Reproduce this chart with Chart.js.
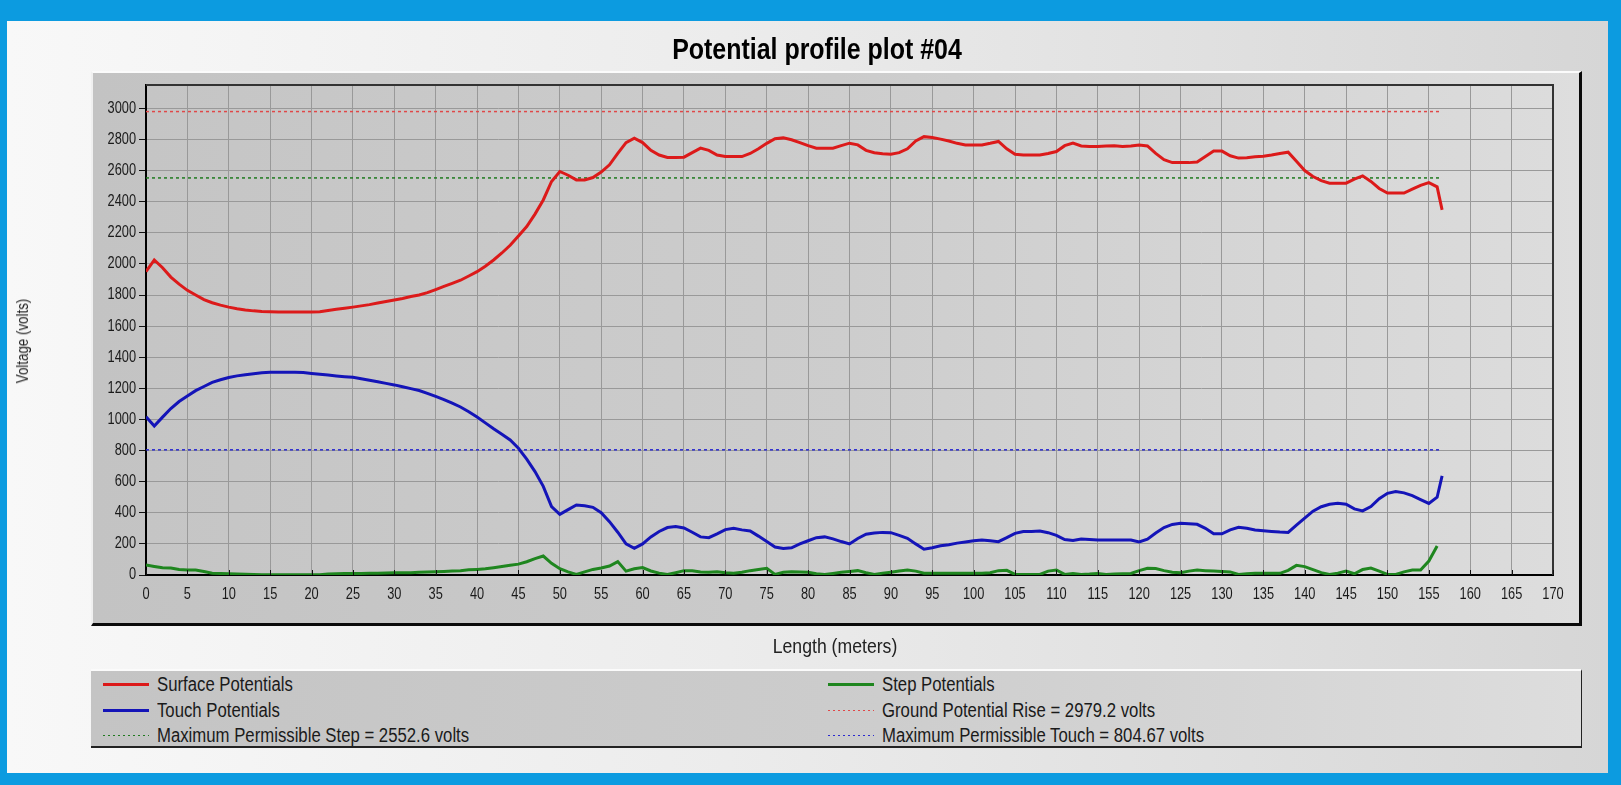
<!DOCTYPE html>
<html>
<head>
<meta charset="utf-8">
<title>Potential profile plot #04</title>
<script src="https://cdn.jsdelivr.net/npm/chart.js@4.4.1/dist/chart.umd.min.js"></script>
<style>
  html, body { margin: 0; padding: 0; }
  body { width: 1621px; height: 785px; background: #0c9be0; position: relative; overflow: hidden;
         font-family: 'Liberation Sans', Arial, sans-serif; color: #1a1a1a; }
  #inner { position: absolute; left: 7px; top: 21px; width: 1601px; height: 752px;
           background: linear-gradient(to right, #f8f8f8 0%, #ececec 45%, #d6d6d6 100%); }
  #panel { position: absolute; left: 91px; top: 71px; width: 1491px; height: 555px; box-sizing: border-box;
           border-top: 2px solid #fbfbfb; border-left: 2px solid #f0f0f0; border-right: 3px solid #0a0a0a; border-bottom: 3px solid #0a0a0a;
           background: linear-gradient(to right, #c3c3c3 0%, #cbcbcb 50%, #dedede 100%); }
  #legend { position: absolute; left: 91px; top: 669px; width: 1491px; height: 79px; box-sizing: border-box;
            border-top: 2px solid #fbfbfb; border-right: 1px solid #222; border-bottom: 2px solid #222;
            background: linear-gradient(to right, #c4c4c4 0%, #cccccc 50%, #dddddd 100%); z-index: 2; }
  .item { position: absolute; height: 22px; line-height: 22px; font-size: 20px; white-space: nowrap; }
  .sample { position: absolute; left: 0; width: 46px; }
  .item span { position: absolute; left: 54px; top: 0; transform: scaleX(0.837); transform-origin: left center; }
  #chart { position: absolute; left: 0; top: 0; z-index: 1; }
  .txt { position: absolute; z-index: 3; white-space: nowrap; }
  #title { left: 817px; top: 49px; transform: translate(-50%, -50%) scaleX(0.86); font-size: 29px; font-weight: bold; color: #000; }
  #ytitle { left: 23px; top: 341px; transform: translate(-50%, -50%) rotate(-90deg) scaleX(0.785); font-size: 17px; color: #222; }
  #xtitle { left: 835px; top: 646px; transform: translate(-50%, -50%) scaleX(0.84); font-size: 21px; color: #222; }
</style>
</head>
<body>
<div id="inner"></div>
<div id="panel"></div>
<canvas id="chart" width="1621" height="785"></canvas>
<div id="legend"></div>
<div class="txt" id="title">Potential profile plot #04</div>
<div class="txt" id="ytitle">Voltage (volts)</div>
<div class="txt" id="xtitle">Length (meters)</div>

<script>
/////// DATA ///////

var lengths = [0,1,2,3,4,5,6,7,8,9,10,11,12,13,14,15,16,17,18,19,20,21,22,23,24,25,26,27,28,29,
  30,31,32,33,34,35,36,37,38,39,40,41,42,43,44,45,46,47,48,49,50,51,52,53,54,55,56,57,58,59,
  60,61,62,63,64,65,66,67,68,69,70,71,72,73,74,75,76,77,78,79,80,81,82,83,84,85,86,87,88,89,
  90,91,92,93,94,95,96,97,98,99,100,101,102,103,104,105,106,107,108,109,110,111,112,113,114,115,116,117,118,119,
  120,121,122,123,124,125,126,127,128,129,130,131,132,133,134,135,136,137,138,139,140,141,142,143,144,145,146,147,148,149,
  150,151,152,153,154,155,156,156.6];

var surfaceV = [1950,2025,1975,1915,1870,1830,1800,1770,1750,1735,
  1722,1712,1704,1698,1694,1692,1690,1690,1690,1690,
  1690,1692,1700,1708,1715,1722,1730,1738,1748,1758,
  1768,1778,1790,1800,1815,1835,1855,1875,1895,1922,
  1950,1985,2025,2070,2120,2180,2240,2320,2411,2530,
  2594,2570,2540,2540,2555,2590,2637,2710,2780,2808,
  2780,2730,2700,2684,2684,2686,2715,2744,2730,2700,
  2690,2690,2690,2710,2740,2775,2805,2810,2798,2780,
  2760,2744,2744,2744,2760,2776,2765,2730,2715,2708,
  2705,2715,2740,2790,2818,2812,2802,2790,2775,2765,
  2765,2765,2775,2787,2740,2705,2700,2700,2700,2710,
  2722,2760,2776,2758,2755,2755,2758,2760,2755,2758,
  2765,2758,2710,2670,2651,2651,2651,2655,2690,2725,
  2725,2695,2680,2682,2688,2692,2700,2710,2718,2660,
  2600,2562,2535,2519,2519,2519,2545,2566,2530,2485,
  2455,2455,2455,2480,2505,2522,2495,2347];

var touchV = [1018,958,1015,1070,1115,1150,1185,1212,1238,1255,
  1270,1280,1288,1294,1300,1303,1303,1303,1303,1302,
  1296,1290,1285,1280,1275,1271,1262,1252,1242,1232,
  1222,1210,1198,1186,1168,1148,1128,1105,1080,1050,
  1015,978,940,905,868,815,745,665,570,440,
  390,420,450,445,435,400,343,275,200,171,
  200,245,280,305,311,302,275,245,240,265,
  292,300,290,283,250,215,180,171,175,200,
  220,240,245,232,215,200,235,262,270,274,
  272,255,236,200,166,175,188,195,205,212,
  220,225,220,214,240,268,280,280,283,272,
  255,228,222,232,228,225,225,225,225,225,
  212,230,270,305,325,332,330,326,300,265,
  265,290,307,300,290,285,280,276,274,320,
  365,410,439,455,461,455,425,412,440,490,
  525,536,528,510,485,460,500,637];

var stepV = [64,55,47,45,35,32,32,22,12,10,
  8,6,5,3,2,2,2,2,2,2,
  2,2,6,8,9,10,10,11,12,13,
  14,14,15,18,20,21,23,25,28,33,
  36,40,47,55,62,70,85,105,122,75,
  40,20,4,20,36,45,58,86,25,40,
  48,26,12,3,15,28,28,20,18,21,
  15,11,18,28,35,43,4,18,21,19,
  17,8,4,10,17,22,28,15,4,12,
  18,25,32,25,11,11,11,11,11,11,
  11,11,14,28,30,4,4,4,4,25,
  32,4,10,4,6,10,4,6,8,10,
  28,43,42,28,18,15,25,32,28,25,
  22,20,4,8,11,11,11,11,30,62,
  54,35,15,4,12,25,8,35,45,25,
  4,4,20,32,32,90,186,null];

// limit lines
var groundPotentialRise = 2979.2;
var maxPermissibleStep = 2552.6;
var maxPermissibleTouch = 804.67;
var limitStart = 0;
var limitEnd = 156.4;

// axis ticks
var xTicks = {min: 0, max: 170, step: 5};
var yTicks = {min: 0, max: 3150, step: 200};

var FONT = "'Liberation Sans', Arial, sans-serif";
var TICK_SQUEEZE = 0.8;   // the original uses a narrow face, no narrow font here

function toPoints(xs, ys) {
    var pts = [];
    for (var i = 0; i < xs.length; i++) {
        pts.push({x: xs[i], y: ys[i]});
    }
    return pts;
}

function flatLine(v) {
    return [{x: limitStart, y: v}, {x: limitEnd, y: v}];
}

function narrowText(ctx, text, x, y, align) {
    ctx.save();
    ctx.translate(x, y);
    ctx.scale(TICK_SQUEEZE, 1);
    ctx.textAlign = align;
    ctx.fillText(text, 0, 0);
    ctx.restore();
}

/////// plot area background + frame + tick labels ///////
var plotFrame = {
    id: 'plotFrame',
    beforeDraw: function (chart) {
        var a = chart.chartArea, ctx = chart.ctx;
        var g = ctx.createLinearGradient(a.left, 0, a.right, 0);
        g.addColorStop(0, '#c5c5c5');
        g.addColorStop(0.5, '#cdcdcd');
        g.addColorStop(1, '#dcdcdc');
        ctx.save();
        ctx.fillStyle = g;
        ctx.fillRect(a.left, a.top, a.right - a.left, a.bottom - a.top);
        ctx.restore();
    },
    afterDraw: function (chart) {
        var a = chart.chartArea, ctx = chart.ctx;
        var xs = chart.scales.x, ys = chart.scales.y;
        ctx.save();
        ctx.strokeStyle = '#333';
        ctx.lineWidth = 2;
        ctx.beginPath();
        ctx.moveTo(a.left, a.top);
        ctx.lineTo(a.right, a.top);
        ctx.lineTo(a.right, a.bottom);
        ctx.stroke();

        // small inward ticks on the length axis
        ctx.strokeStyle = '#111';
        ctx.lineWidth = 1;
        xs.ticks.forEach(function (t) {
            var px = Math.round(xs.getPixelForValue(t.value)) + 0.5;
            ctx.beginPath();
            ctx.moveTo(px, a.bottom);
            ctx.lineTo(px, a.bottom - 5);
            ctx.stroke();
        });

        // tick labels
        ctx.fillStyle = '#1a1a1a';
        ctx.font = '16px ' + FONT;
        ctx.textBaseline = 'middle';
        xs.ticks.forEach(function (t) {
            narrowText(ctx, String(t.value), xs.getPixelForValue(t.value), a.bottom + 20, 'center');
        });
        ys.ticks.forEach(function (t) {
            narrowText(ctx, String(t.value), a.left - 10, ys.getPixelForValue(t.value), 'right');
        });
        ctx.restore();
    }
};

Chart.defaults.font.family = FONT;
Chart.defaults.color = '#1a1a1a';

var ctx = document.getElementById('chart').getContext('2d');
var myChart = new Chart(ctx, {
    type: 'line',
    data: {
        datasets: [{
            label: 'Surface Potentials',
            data: toPoints(lengths, surfaceV),
            borderColor: '#dc1a1a',
            borderWidth: 3,
            order: 1
        }, {
            label: 'Step Potentials',
            data: toPoints(lengths, stepV),
            borderColor: '#1f861f',
            borderWidth: 3,
            order: 1
        }, {
            label: 'Touch Potentials',
            data: toPoints(lengths, touchV),
            borderColor: '#1414b8',
            borderWidth: 3,
            order: 1
        }, {
            label: 'Ground Potential Rise = ' + groundPotentialRise + ' volts',
            data: flatLine(groundPotentialRise),
            borderColor: '#e04848',
            borderWidth: 1.5,
            borderDash: [3, 3],
            order: 2
        }, {
            label: 'Maximum Permissible Step = ' + maxPermissibleStep + ' volts',
            data: flatLine(maxPermissibleStep),
            borderColor: '#1f7a1f',
            borderWidth: 1.5,
            borderDash: [3, 3],
            order: 2
        }, {
            label: 'Maximum Permissible Touch = ' + maxPermissibleTouch + ' volts',
            data: flatLine(maxPermissibleTouch),
            borderColor: '#2a2ad0',
            borderWidth: 1.5,
            borderDash: [3, 3],
            order: 2
        }]
    },
    options: {
        responsive: false,
        animation: false,
        devicePixelRatio: 1,
        layout: {padding: {left: 7, right: 68, top: 85, bottom: 170}},
        elements: {point: {radius: 0}, line: {tension: 0, fill: false}},
        plugins: {legend: {display: false}, title: {display: false}, tooltip: {enabled: false}},
        scales: {
            x: {
                type: 'linear',
                min: xTicks.min,
                max: xTicks.max,
                ticks: {stepSize: xTicks.step, display: false, autoSkip: false},
                grid: {color: '#999999', lineWidth: 1, drawTicks: false},
                border: {display: true, color: '#000', width: 2},
                afterFit: function (scale) { scale.height = 40; }
            },
            y: {
                type: 'linear',
                min: yTicks.min,
                max: yTicks.max,
                ticks: {stepSize: yTicks.step, includeBounds: false, display: false},
                grid: {color: '#999999', lineWidth: 1, tickLength: 7, tickColor: '#111'},
                border: {display: true, color: '#000', width: 2},
                afterFit: function (scale) { scale.width = 139; }
            }
        }
    },
    plugins: [plotFrame]
});

/////// legend box, 2 columns, rows in dataset order ///////
var legendBox = document.getElementById('legend');
myChart.data.datasets.forEach(function (ds, i) {
    var col = i % 2, row = Math.floor(i / 2);
    var item = document.createElement('div');
    item.className = 'item';
    item.style.left = (col === 0 ? 12 : 737) + 'px';
    item.style.top = Math.round(2 + row * 25.5) + 'px';
    var s = document.createElement('div');
    s.className = 'sample';
    if (ds.borderDash) {
        s.style.top = '11px';
        s.style.height = '1px';
        s.style.background = 'repeating-linear-gradient(to right, ' + ds.borderColor + ' 0 2px, transparent 2px 5px)';
    } else {
        s.style.top = '10px';
        s.style.height = '3px';
        s.style.background = ds.borderColor;
    }
    var t = document.createElement('span');
    t.textContent = ds.label;
    item.appendChild(s);
    item.appendChild(t);
    legendBox.appendChild(item);
});
</script>
</body>
</html>
